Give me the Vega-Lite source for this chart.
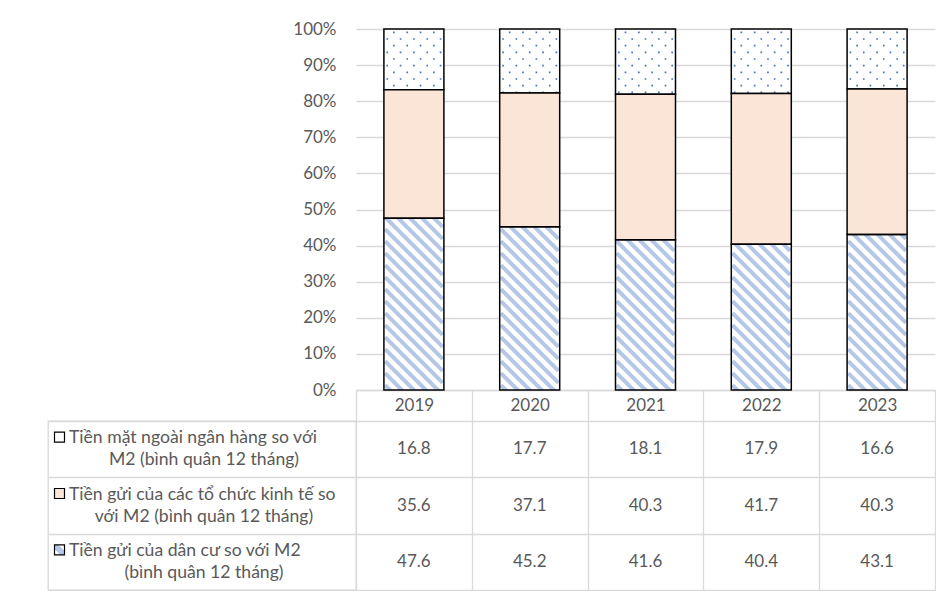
{
  "$schema": "https://vega.github.io/schema/vega-lite/v6.json",
  "background": "white",
  "padding": {"left": 47, "top": 20, "right": 0, "bottom": 0},
  "bounds": "flush",
  "columns": 2,
  "spacing": {"row": 31, "column": 0},
  "config": {
    "view": {"stroke": null},
    "font": "Lato",
    "axisY": {
      "format": ".0%",
      "values": [0, 0.1, 0.2, 0.3, 0.4, 0.5, 0.6, 0.7, 0.8, 0.9, 1],
      "labelFont": "Lato",
      "labelFontSize": 17,
      "labelColor": "#595959"
    }
  },
  "datasets": {
    "d": [
      {"year": "2019", "series": "tm", "k": 3, "value": 16.8},
      {"year": "2019", "series": "kt", "k": 2, "value": 35.6},
      {"year": "2019", "series": "dc", "k": 1, "value": 47.6},
      {"year": "2020", "series": "tm", "k": 3, "value": 17.7},
      {"year": "2020", "series": "kt", "k": 2, "value": 37.1},
      {"year": "2020", "series": "dc", "k": 1, "value": 45.2},
      {"year": "2021", "series": "tm", "k": 3, "value": 18.1},
      {"year": "2021", "series": "kt", "k": 2, "value": 40.3},
      {"year": "2021", "series": "dc", "k": 1, "value": 41.6},
      {"year": "2022", "series": "tm", "k": 3, "value": 17.9},
      {"year": "2022", "series": "kt", "k": 2, "value": 41.7},
      {"year": "2022", "series": "dc", "k": 1, "value": 40.4},
      {"year": "2023", "series": "tm", "k": 3, "value": 16.6},
      {"year": "2023", "series": "kt", "k": 2, "value": 40.3},
      {"year": "2023", "series": "dc", "k": 1, "value": 43.1}
    ],
    "lab": [
      {"series": "tm", "k": 3, "l1": "Tiền mặt ngoài ngân hàng so với", "l2": "M2 (bình quân 12 tháng)"},
      {"series": "kt", "k": 2, "l1": "Tiền gửi của các tổ chức kinh tế so", "l2": "với M2 (bình quân 12 tháng)"},
      {"series": "dc", "k": 1, "l1": "Tiền gửi của dân cư so với M2", "l2": "(bình quân 12 tháng)"}
    ]
  },
  "concat": [
    {
      "width": 308,
      "height": 361,
      "data": {"values": [{}]},
      "mark": {"type": "text"},
      "encoding": {"text": {"value": ""}}
    },
    {
      "width": 579,
      "height": 361,
      "data": {"name": "d"},
      "encoding": {
        "x": {
          "field": "year",
          "type": "ordinal",
          "scale": {"paddingInner": 0, "paddingOuter": 0},
          "axis": {
            "title": null,
            "orient": "bottom",
            "labelAngle": 0,
            "tickBand": "extent",
            "tickSize": 31,
            "tickColor": "#d9d9d9",
            "tickWidth": 1.3,
            "domain": true,
            "domainColor": "#d9d9d9",
            "domainWidth": 1.3,
            "grid": false,
            "labelFont": "Lato",
            "labelFontSize": 17,
            "labelColor": "#595959",
            "labelBaseline": "middle",
            "labelPadding": -15.5
          }
        }
      },
      "layer": [
        {
          "mark": {"type": "bar", "width": 60, "fill": "white"},
          "encoding": {
            "y": {
              "field": "value",
              "type": "quantitative",
              "stack": "normalize",
              "scale": {"domain": [0, 1]},
              "axis": {
                "title": null,
                "format": ".0%",
                "values": [0, 0.1, 0.2, 0.3, 0.4, 0.5, 0.6, 0.7, 0.8, 0.9, 1],
                "labelOverlap": false,
                "ticks": false,
                "domain": false,
                "grid": true,
                "gridColor": "#d9d9d9",
                "gridWidth": 1.3,
                "labelPadding": 20
              }
            },
            "order": {"field": "k"}
          }
        },
        {
          "transform": [{"filter": "datum.k == 1"}],
          "mark": {
            "type": "point",
            "shape": "M-2.4 -0.4L2.4 4.4M-2.4 -1.4L2.4 3.4M-2.4 -2.4L2.4 2.4M-2.4 -3.4L2.4 1.4M-2.4 -4.4L2.4 0.4M-2.4 -5.4L2.4 -0.6M-2.4 -6.4L2.4 -1.6M-2.4 -7.4L2.4 -2.6M-2.4 -8.4L2.4 -3.6M-2.4 -9.4L2.4 -4.6M-2.4 -10.4L2.4 -5.6M-2.4 -11.4L2.4 -6.6M-2.4 -12.4L2.4 -7.6M-2.4 -13.4L2.4 -8.6M-2.4 -14.4L2.4 -9.6M-2.4 -15.4L2.4 -10.6M-2.4 -16.4L2.4 -11.6M-2.4 -17.4L2.4 -12.6M-2.4 -18.4L2.4 -13.6M-2.4 -19.4L2.4 -14.6",
            "size": 576,
            "filled": false,
            "stroke": "#b4c7e7",
            "strokeWidth": 4,
            "opacity": 1,
            "clip": true
          },
          "encoding": {
            "y": {
              "datum": 0,
              "type": "quantitative",
              "axis": {
                "title": null,
                "format": ".0%",
                "values": [0, 0.1, 0.2, 0.3, 0.4, 0.5, 0.6, 0.7, 0.8, 0.9, 1],
                "labelOverlap": false,
                "ticks": false,
                "domain": false,
                "grid": true,
                "gridColor": "#d9d9d9",
                "gridWidth": 1.3,
                "labelPadding": 20
              }
            }
          }
        },
        {
          "transform": [{"filter": "datum.k == 3"}],
          "mark": {
            "type": "point",
            "shape": "M-3.125 0.375h0.25v0.25h-0.25zM-1.125 0.375h0.25v0.25h-0.25zM0.875 0.375h0.25v0.25h-0.25zM2.875 0.375h0.25v0.25h-0.25zM-4.125 1.375h0.25v0.25h-0.25zM-2.125 1.375h0.25v0.25h-0.25zM-0.125 1.375h0.25v0.25h-0.25zM1.875 1.375h0.25v0.25h-0.25zM3.875 1.375h0.25v0.25h-0.25zM-3.125 2.375h0.25v0.25h-0.25zM-1.125 2.375h0.25v0.25h-0.25zM0.875 2.375h0.25v0.25h-0.25zM2.875 2.375h0.25v0.25h-0.25zM-4.125 3.375h0.25v0.25h-0.25zM-2.125 3.375h0.25v0.25h-0.25zM-0.125 3.375h0.25v0.25h-0.25zM1.875 3.375h0.25v0.25h-0.25zM3.875 3.375h0.25v0.25h-0.25zM-3.125 4.375h0.25v0.25h-0.25zM-1.125 4.375h0.25v0.25h-0.25zM0.875 4.375h0.25v0.25h-0.25zM2.875 4.375h0.25v0.25h-0.25zM-4.125 5.375h0.25v0.25h-0.25zM-2.125 5.375h0.25v0.25h-0.25zM-0.125 5.375h0.25v0.25h-0.25zM1.875 5.375h0.25v0.25h-0.25zM3.875 5.375h0.25v0.25h-0.25zM-3.125 6.375h0.25v0.25h-0.25zM-1.125 6.375h0.25v0.25h-0.25zM0.875 6.375h0.25v0.25h-0.25zM2.875 6.375h0.25v0.25h-0.25zM-4.125 7.375h0.25v0.25h-0.25zM-2.125 7.375h0.25v0.25h-0.25zM-0.125 7.375h0.25v0.25h-0.25zM1.875 7.375h0.25v0.25h-0.25zM3.875 7.375h0.25v0.25h-0.25zM-3.125 8.375h0.25v0.25h-0.25zM-1.125 8.375h0.25v0.25h-0.25zM0.875 8.375h0.25v0.25h-0.25zM2.875 8.375h0.25v0.25h-0.25zM-4.125 9.375h0.25v0.25h-0.25zM-2.125 9.375h0.25v0.25h-0.25zM-0.125 9.375h0.25v0.25h-0.25zM1.875 9.375h0.25v0.25h-0.25zM3.875 9.375h0.25v0.25h-0.25zM-3.125 10.375h0.25v0.25h-0.25zM-1.125 10.375h0.25v0.25h-0.25zM0.875 10.375h0.25v0.25h-0.25zM2.875 10.375h0.25v0.25h-0.25z",
            "size": 177.7778,
            "filled": true,
            "fill": "#4472c4",
            "opacity": 1
          },
          "encoding": {
            "y": {
              "datum": 1,
              "type": "quantitative",
              "axis": {
                "title": null,
                "format": ".0%",
                "values": [0, 0.1, 0.2, 0.3, 0.4, 0.5, 0.6, 0.7, 0.8, 0.9, 1],
                "labelOverlap": false,
                "ticks": false,
                "domain": false,
                "grid": true,
                "gridColor": "#d9d9d9",
                "gridWidth": 1.3,
                "labelPadding": 20
              }
            }
          }
        },
        {
          "mark": {"type": "bar", "width": 60, "stroke": "black", "strokeWidth": 1.5},
          "encoding": {
            "y": {
              "field": "value",
              "type": "quantitative",
              "stack": "normalize",
              "axis": {
                "title": null,
                "format": ".0%",
                "values": [0, 0.1, 0.2, 0.3, 0.4, 0.5, 0.6, 0.7, 0.8, 0.9, 1],
                "labelOverlap": false,
                "ticks": false,
                "domain": false,
                "grid": true,
                "gridColor": "#d9d9d9",
                "gridWidth": 1.3,
                "labelPadding": 20
              }
            },
            "order": {"field": "k"},
            "fill": {"condition": {"test": "datum.k == 2", "value": "#fbe5d6"}, "value": "transparent"}
          }
        }
      ]
    },
    {
      "width": 308,
      "height": 169,
      "data": {"name": "lab"},
      "view": {"stroke": "#d9d9d9", "strokeWidth": 1.3},
      "encoding": {
        "y": {
          "field": "series",
          "type": "nominal",
          "sort": {"field": "k", "op": "max", "order": "descending"},
          "scale": {"paddingInner": 0, "paddingOuter": 0},
          "axis": {"title": null, "labels": false, "ticks": false, "domain": false, "grid": true, "tickBand": "extent", "gridColor": "#d9d9d9", "gridWidth": 1.3}
        }
      },
      "layer": [
        {
          "mark": {"type": "text", "align": "left", "baseline": "middle", "dx": -133, "dy": -11, "font": "Lato", "fontSize": 17.6, "color": "#595959"},
          "encoding": {"text": {"field": "l1"}}
        },
        {
          "mark": {"type": "text", "align": "center", "baseline": "middle", "dx": 2, "dy": 11, "font": "Lato", "fontSize": 17.6, "color": "#595959"},
          "encoding": {"text": {"field": "l2"}}
        },
        {
          "mark": {"type": "point", "shape": "square", "size": 100, "filled": true, "stroke": "black", "strokeWidth": 1.2, "opacity": 1, "xOffset": -142.5, "yOffset": -12},
          "encoding": {
            "fill": {
              "condition": [
                {"test": "datum.k == 2", "value": "#fbe5d6"},
                {"test": "datum.k == 1", "value": {"gradient": "linear", "x1": 0, "y1": 1, "x2": 1, "y2": 0, "stops": [{"offset": 0, "color": "white"}, {"offset": 0.3, "color": "white"}, {"offset": 0.3, "color": "#b4c7e7"}, {"offset": 0.7, "color": "#b4c7e7"}, {"offset": 0.7, "color": "white"}, {"offset": 1, "color": "white"}]}}
              ],
              "value": "white"
            }
          }
        }
      ]
    },
    {
      "width": 579,
      "height": 169,
      "data": {"name": "d"},
      "encoding": {
        "x": {
          "field": "year",
          "type": "ordinal",
          "scale": {"paddingInner": 0, "paddingOuter": 0},
          "axis": {"title": null, "labels": false, "ticks": false, "domain": false, "grid": true, "tickBand": "extent", "gridColor": "#d9d9d9", "gridWidth": 1.3}
        },
        "y": {
          "field": "series",
          "type": "nominal",
          "sort": {"field": "k", "op": "max", "order": "descending"},
          "scale": {"paddingInner": 0, "paddingOuter": 0},
          "axis": {"title": null, "labels": false, "ticks": false, "domain": false, "grid": true, "tickBand": "extent", "gridColor": "#d9d9d9", "gridWidth": 1.3}
        },
        "text": {"field": "value", "type": "quantitative", "format": ".1f"}
      },
      "mark": {"type": "text", "baseline": "middle", "font": "Lato", "fontSize": 17, "color": "#595959"}
    }
  ]
}
